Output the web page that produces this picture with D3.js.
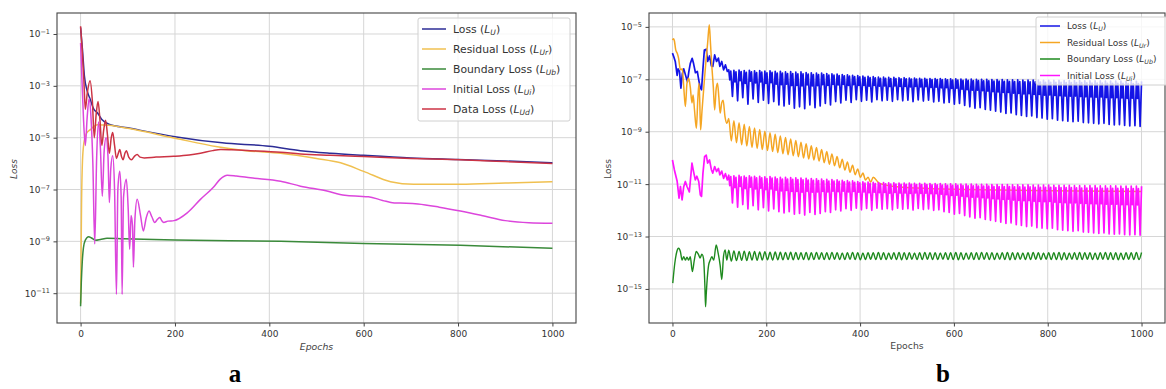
<!DOCTYPE html>
<html>
<head>
<meta charset="utf-8">
<script src="https://cdn.jsdelivr.net/npm/d3@7"></script>
<style>
  body { margin: 0; background: #fff; }
  svg { display: block; }
  text { font-family: "DejaVu Sans", sans-serif; }
</style>
</head>
<body>
<svg id="chart" width="1166" height="389"></svg>
<script>
// All loss values below are stored as log10(loss); epochs on x.

// ---------- panel a ----------
var aLoss = [[0,-0.75],[4,-1.6],[8,-2.6],[14,-3.2],[20,-3.5],[28,-3.9],[36,-4.05],[45,-4.3],[60,-4.48],[100,-4.62],
  [200,-4.96],[300,-5.2],[400,-5.33],[466,-5.5],[530,-5.6],[600,-5.68],[700,-5.78],[800,-5.84],[900,-5.9],[1000,-5.97]];
var aResidual = [[0,-11.4],[1,-9.6],[2,-7.6],[4,-5.9],[7,-5.2],[12,-4.85],[20,-4.7],[36,-4.5],[60,-4.52],[100,-4.64],
  [200,-5.02],[290,-5.35],[350,-5.5],[424,-5.6],[500,-5.8],[551,-5.97],[600,-6.3],[657,-6.7],[706,-6.8],[805,-6.8],[900,-6.75],[1000,-6.7]];
var aBoundary = [[0,-11.5],[1.5,-10.6],[3.5,-9.8],[6,-9.25],[10,-8.95],[17,-8.82],[24,-8.88],[32,-8.96],[42,-8.93],[56,-8.88],
  [90,-8.9],[200,-8.95],[424,-9.0],[600,-9.08],[805,-9.15],[1000,-9.27]];
var aInitial = [[0,-1.35],[3,-2.8],[6,-4.2],[10,-5.3],[14,-4.2],[18,-3.5],[22,-4.2],[26,-6.0],[30,-9.1],[34,-5.8],[38,-4.4],
  [42,-5.4],[46,-7.26],[50,-5.5],[54,-5.0],[58,-5.7],[61,-7.5],[64,-6.2],[68,-5.7],[72,-7.0],[76,-11.05],[79,-7.0],[83,-6.3],
  [86,-7.3],[88,-11.05],[91,-7.3],[97,-6.6],[101,-7.8],[104,-9.3],[107,-8.0],[110,-8.4],[112,-10.0],[115,-8.2],[120,-7.38],
  [127,-8.0],[133,-8.6],[139,-8.1],[145,-7.83],[151,-8.05],[157,-8.27],[163,-8.15],[168,-8.08],[172,-8.2],[176,-8.27],[185,-8.22],
  [198,-8.2],[226,-7.9],[254,-7.38],[282,-6.9],[296,-6.6],[311,-6.45],[330,-6.48],[360,-6.55],[424,-6.68],[466,-6.87],[520,-7.05],
  [560,-7.22],[590,-7.26],[610,-7.28],[640,-7.42],[665,-7.52],[690,-7.53],[715,-7.56],[760,-7.68],[805,-7.83],[850,-8.0],
  [900,-8.2],[950,-8.28],[1000,-8.3]];
var aData = [[0,-0.7],[3,-1.5],[7,-2.8],[10,-3.9],[14,-3.3],[20,-2.8],[25,-3.6],[29,-5.0],[33,-4.1],[37,-3.6],[41,-4.3],[45,-5.3],
  [49,-4.7],[53,-4.33],[57,-4.9],[61,-5.6],[65,-5.0],[68,-4.8],[72,-5.3],[76,-5.8],[80,-5.6],[83,-5.46],[87,-5.75],[90,-5.85],
  [94,-5.6],[97,-5.5],[102,-5.75],[108,-5.85],[114,-5.72],[120,-5.65],[126,-5.75],[135,-5.78],[160,-5.75],[197,-5.72],[230,-5.67],
  [254,-5.6],[280,-5.5],[297,-5.46],[320,-5.47],[360,-5.5],[424,-5.56],[466,-5.63],[530,-5.68],[600,-5.73],[700,-5.8],[805,-5.85],
  [900,-5.92],[1000,-6.0]];

// ---------- panel b ----------
// irregular first ~120 epochs
var bLossStart = [[0,-6.0],[3,-6.15],[6,-6.32],[10,-6.85],[12,-6.6],[15,-6.7],[18,-7.34],[21,-6.8],[24,-6.6],[28,-6.85],[32,-7.09],
  [35,-6.7],[38,-6.4],[42,-6.2],[45,-6.4],[49,-6.75],[53,-6.7],[56,-7.02],[59,-7.3],[62,-7.4],[65,-6.6],[68,-5.88],[72,-5.85],
  [75,-6.32],[79,-6.11],[83,-6.49],[86,-6.51],[90,-6.07],[94,-6.32],[98,-6.19],[101,-6.51],[105,-6.32],[109,-6.64],[113,-6.45],[117,-6.7]];
var bResidualStart = [[0,-5.5],[2,-5.45],[4,-5.52],[7,-5.88],[10,-6.0],[13,-6.19],[17,-6.64],[21,-6.6],[24,-7.27],[27.5,-8.04],
  [31,-7.15],[34.6,-6.96],[38,-7.3],[41.6,-7.9],[44,-7.6],[47,-8.17],[51,-8.87],[54,-7.78],[56.5,-7.15],[58,-7.7],[60,-8.93],
  [63,-8.2],[67,-7.27],[71.6,-6.26],[75,-5.62],[78.5,-4.92],[81,-5.62],[84,-6.51],[87,-7.27],[90,-8.17],[93,-7.4],[96,-7.15],
  [98.8,-7.66],[101.7,-8.29],[105,-7.9],[108,-7.8],[112,-8.42],[116,-8.68]];
var bBoundaryStart = [[0.7,-14.78],[5,-14.02],[9,-13.6],[13,-13.45],[17,-13.58],[20.5,-13.9],[24,-13.77],[27.5,-13.9],[31,-13.79],
  [34.6,-13.9],[38,-13.77],[42.4,-14.34],[46.6,-13.9],[50.8,-13.57],[55.8,-13.7],[59,-13.82],[62.8,-13.67],[66.3,-13.85],
  [69.2,-14.91],[70.6,-15.68],[72,-15.2],[73.4,-14.8],[77,-14.1],[80.5,-13.9],[84,-13.77],[88,-13.9],[93.2,-13.32],[97.5,-13.64],
  [101.7,-14.1],[105.2,-14.64],[108.8,-13.77],[112.3,-13.51],[115.8,-13.9]];
var bInitialStart = [[0,-10.08],[4,-10.45],[10,-10.89],[14,-11.54],[17,-11.09],[20.5,-11.6],[24,-11.1],[27.5,-10.9],[31,-11.09],
  [36,-11.3],[41.6,-10.2],[45,-10.52],[48.7,-10.84],[52,-10.7],[56,-10.9],[59.4,-11.41],[62,-11.47],[65,-10.58],[68.5,-9.95],
  [72,-9.89],[75,-10.2],[79,-10.08],[83,-10.45],[86,-10.58],[90,-10.33],[94,-10.52],[98,-10.4],[101,-10.65],[105,-10.5],
  [109,-10.78],[113,-10.6],[117,-10.84]];

// regular oscillation, one cycle every 11 epochs from epoch 120
var oscStart = 120, oscPeriod = 11;
var bLossTops = [-6.64,-6.66,-6.65,-6.67,-6.66,-6.68,-6.67,-6.69,-6.68,-6.70,
  -6.70,-6.72,-6.71,-6.73,-6.72,-6.74,-6.75,-6.76,-6.76,-6.78,
  -6.79,-6.80,-6.82,-6.83,-6.85,-6.86,-6.88,-6.89,-6.90,-6.92,
  -6.92,-6.93,-6.93,-6.94,-6.94,-6.95,-6.95,-6.96,-6.96,-6.97,
  -6.97,-6.97,-6.98,-6.98,-6.98,-6.99,-6.99,-6.99,-7.00,-7.00,
  -7.00,-7.01,-7.01,-7.01,-7.02,-7.02,-7.02,-7.03,-7.03,-7.03,
  -7.03,-7.04,-7.04,-7.04,-7.04,-7.05,-7.05,-7.05,-7.05,-7.06,
  -7.06,-7.06,-7.06,-7.07,-7.07,-7.07,-7.07,-7.08,-7.08,-7.08];
var bLossLows = [-7.65,-7.82,-7.70,-7.95,-7.75,-7.88,-7.80,-7.92,-7.85,-7.98,
  -8.02,-7.95,-8.10,-8.05,-8.12,-7.98,-8.08,-8.02,-7.92,-7.98,
  -7.85,-7.90,-7.80,-7.88,-7.78,-7.84,-7.80,-7.86,-7.78,-7.82,
  -7.80,-7.84,-7.78,-7.82,-7.80,-7.85,-7.79,-7.83,-7.80,-7.86,
  -7.84,-7.90,-7.88,-7.95,-7.92,-8.00,-8.05,-8.10,-8.08,-8.15,
  -8.18,-8.22,-8.25,-8.30,-8.28,-8.35,-8.38,-8.42,-8.40,-8.46,
  -8.48,-8.52,-8.50,-8.56,-8.58,-8.60,-8.62,-8.60,-8.65,-8.66,
  -8.68,-8.70,-8.68,-8.72,-8.74,-8.73,-8.76,-8.78,-8.77,-8.80];
var bInitialTops = [-10.66,-10.68,-10.67,-10.69,-10.68,-10.70,-10.70,-10.72,-10.71,-10.73,
  -10.74,-10.74,-10.75,-10.76,-10.77,-10.78,-10.79,-10.80,-10.81,-10.82,
  -10.83,-10.84,-10.86,-10.87,-10.88,-10.90,-10.91,-10.92,-10.93,-10.94,
  -10.94,-10.95,-10.95,-10.96,-10.96,-10.96,-10.97,-10.97,-10.97,-10.98,
  -10.98,-10.98,-10.99,-10.99,-10.99,-11.00,-11.00,-11.00,-11.01,-11.01,
  -11.01,-11.02,-11.02,-11.02,-11.02,-11.03,-11.03,-11.03,-11.03,-11.04,
  -11.04,-11.04,-11.04,-11.05,-11.05,-11.05,-11.05,-11.06,-11.06,-11.06,
  -11.06,-11.06,-11.07,-11.07,-11.07,-11.07,-11.08,-11.08,-11.08,-11.08];
var bInitialLows = [-11.72,-11.88,-11.78,-11.95,-11.82,-11.98,-11.90,-12.02,-11.95,-12.05,
  -12.10,-12.05,-12.15,-12.12,-12.18,-12.08,-12.16,-12.12,-12.05,-12.08,
  -11.98,-12.02,-11.94,-12.00,-11.92,-11.98,-11.93,-12.00,-11.92,-11.96,
  -11.94,-11.98,-11.92,-11.96,-11.94,-11.99,-11.93,-11.97,-11.95,-12.00,
  -11.98,-12.05,-12.08,-12.15,-12.12,-12.20,-12.25,-12.30,-12.28,-12.35,
  -12.38,-12.42,-12.45,-12.50,-12.48,-12.55,-12.58,-12.62,-12.60,-12.66,
  -12.68,-12.70,-12.68,-12.74,-12.76,-12.78,-12.80,-12.78,-12.83,-12.84,
  -12.86,-12.88,-12.86,-12.90,-12.91,-12.90,-12.93,-12.94,-12.93,-12.95];
var bBoundaryTops = [-13.52,-13.55,-13.57,-13.56,-13.58,-13.57,-13.59,-13.58,-13.60,-13.59,
  -13.60,-13.61,-13.60,-13.61,-13.62,-13.61,-13.62,-13.61,-13.62,-13.62,
  -13.61,-13.62,-13.63,-13.62,-13.61,-13.62,-13.63,-13.62,-13.62,-13.61,
  -13.62,-13.63,-13.62,-13.61,-13.62,-13.62,-13.63,-13.62,-13.61,-13.62,
  -13.62,-13.63,-13.62,-13.62,-13.61,-13.62,-13.63,-13.62,-13.62,-13.61,
  -13.62,-13.62,-13.63,-13.62,-13.61,-13.62,-13.62,-13.63,-13.62,-13.61,
  -13.62,-13.63,-13.62,-13.62,-13.61,-13.62,-13.63,-13.62,-13.61,-13.62,
  -13.62,-13.63,-13.62,-13.61,-13.62,-13.62,-13.63,-13.62,-13.62,-13.61];
var bBoundaryLows = [-13.94,-13.92,-13.91,-13.92,-13.90,-13.91,-13.90,-13.89,-13.90,-13.89,
  -13.89,-13.88,-13.89,-13.88,-13.88,-13.89,-13.88,-13.87,-13.88,-13.88,
  -13.87,-13.88,-13.88,-13.87,-13.88,-13.89,-13.88,-13.87,-13.88,-13.88,
  -13.88,-13.87,-13.88,-13.89,-13.88,-13.87,-13.88,-13.88,-13.87,-13.88,
  -13.88,-13.87,-13.88,-13.88,-13.89,-13.88,-13.87,-13.88,-13.88,-13.87,
  -13.88,-13.88,-13.87,-13.88,-13.89,-13.88,-13.87,-13.88,-13.88,-13.87,
  -13.88,-13.87,-13.88,-13.88,-13.89,-13.88,-13.87,-13.88,-13.88,-13.87,
  -13.88,-13.88,-13.87,-13.88,-13.88,-13.89,-13.88,-13.87,-13.88,-13.88];
// residual damps out by ~epoch 430, then sits inside the initial-loss band
var bResidualTops = [-8.50,-8.58,-8.66,-8.72,-8.80,-8.86,-8.92,-8.98,-9.04,-9.10,-9.16,-9.22,-9.28,-9.34,
  -9.40,-9.46,-9.54,-9.60,-9.68,-9.76,-9.85,-9.95,-10.05,-10.16,-10.28,-10.42,-10.58,-10.74];
var bResidualLows = [-9.35,-9.42,-9.50,-9.55,-9.60,-9.64,-9.68,-9.72,-9.76,-9.80,-9.84,-9.88,-9.92,-9.96,
  -10.00,-10.04,-10.08,-10.12,-10.18,-10.24,-10.30,-10.38,-10.46,-10.55,-10.64,-10.74,-10.84,-10.92];
var bResidualEnd = [[440,-10.95],[470,-11.08],[520,-11.15],[600,-11.2],[700,-11.22],[800,-11.25],[1000,-11.28]];

// ticks / labels
var xTicks = [0, 200, 400, 600, 800, 1000];
var aYTicks = [-1, -3, -5, -7, -9, -11];
var bYTicks = [-5, -7, -9, -11, -13, -15];
var aNames = ["Loss", "Residual Loss", "Boundary Loss", "Initial Loss", "Data Loss"];
var aSubs = ["U", "Ur", "Ub", "Ui", "Ud"];
var bNames = ["Loss", "Residual Loss", "Boundary Loss", "Initial Loss"];
var bSubs = ["U", "Ur", "Ub", "Ui"];

// shape of one cycle: [fraction of period, fraction of the way from top to low]
var spikeShape = [[0, 0], [0.2, 0.38], [0.4, 0.05], [0.72, 1]];
var waveShape = [[0, 0], [0.5, 1]];

function cycles(start, period, tops, lows, shape) {
  var pts = [];
  tops.forEach(function(t, k) {
    var t0 = start + k * period;
    shape.forEach(function(s) {
      pts.push([t0 + s[0] * period, t + (lows[k] - t) * s[1]]);
    });
  });
  pts.push([start + tops.length * period, tops[tops.length - 1]]);
  return pts;
}

var svg = d3.select("#chart");
svg.append("rect").attr("width", 1166).attr("height", 389).attr("fill", "#fff");

function drawPanel(p) {
  var x = d3.scaleLinear().domain([-50, 1050]).range([p.left, p.right]);
  var y = d3.scaleLog().domain(p.yDomain.map(function(v) { return Math.pow(10, v); })).range([p.bottom, p.top]);
  var g = svg.append("g");

  // grid
  g.selectAll(".gx").data(xTicks).enter().append("line")
    .attr("x1", function(d) { return x(d); }).attr("x2", function(d) { return x(d); })
    .attr("y1", p.top).attr("y2", p.bottom)
    .attr("stroke", "#d6d6d6").attr("stroke-width", 1);
  g.selectAll(".gy").data(p.yTicks).enter().append("line")
    .attr("x1", p.left).attr("x2", p.right)
    .attr("y1", function(d) { return y(Math.pow(10, d)); }).attr("y2", function(d) { return y(Math.pow(10, d)); })
    .attr("stroke", "#d6d6d6").attr("stroke-width", 1);

  // lines
  svg.append("clipPath").attr("id", "clip" + p.id).append("rect")
    .attr("x", p.left).attr("y", p.top).attr("width", p.right - p.left).attr("height", p.bottom - p.top);
  var lines = g.append("g").attr("clip-path", "url(#clip" + p.id + ")");
  p.series.forEach(function(s) {
    var line = d3.line()
      .x(function(d) { return x(d[0]); })
      .y(function(d) { return y(Math.pow(10, d[1])); })
      .curve(s.curve || d3.curveMonotoneX);
    lines.append("path").datum(s.data)
      .attr("d", line)
      .attr("fill", "none")
      .attr("stroke", s.color)
      .attr("stroke-width", s.width || 1.5)
      .attr("stroke-linejoin", "round");
  });

  // frame
  g.append("rect").attr("x", p.left).attr("y", p.top)
    .attr("width", p.right - p.left).attr("height", p.bottom - p.top)
    .attr("fill", "none").attr("stroke", "#444").attr("stroke-width", 1.1);

  // axes
  var gx = g.append("g").attr("transform", "translate(0," + p.bottom + ")")
    .call(d3.axisBottom(x).tickValues(xTicks).tickSize(3.5).tickPadding(4).tickFormat(d3.format("d")));
  var gy = g.append("g").attr("transform", "translate(" + p.left + ",0)")
    .call(d3.axisLeft(y).tickValues(p.yTicks.map(function(v) { return Math.pow(10, v); })).tickSize(3.5).tickPadding(3.5).tickFormat(""));
  [gx, gy].forEach(function(a) {
    a.select(".domain").remove();
    a.selectAll(".tick line").attr("stroke", "#444");
    a.selectAll(".tick text").attr("fill", "#333").attr("font-size", "9px");
  });
  gy.selectAll(".tick text").each(function(d) {
    var t = d3.select(this);
    var pw = Math.round(Math.log10(d));
    t.append("tspan").text("10");
    t.append("tspan").attr("dy", "-0.5em").attr("font-size", "6.5px").text("\u2212" + (-pw));
  });

  // axis titles
  svg.append("text").attr("x", (p.left + p.right) / 2).attr("y", p.xTitleY)
    .attr("text-anchor", "middle").attr("font-size", "9.3px").attr("fill", "#444")
    .attr("font-style", p.italic ? "italic" : "normal").text("Epochs");
  svg.append("text").attr("transform", "translate(" + p.yTitleX + ",169) rotate(-90)")
    .attr("text-anchor", "middle").attr("font-size", "9px").attr("fill", "#444")
    .attr("font-style", p.italic ? "italic" : "normal").text("Loss");

  // legend
  var L = p.legend;
  g.append("rect").attr("x", L.x).attr("y", L.y).attr("width", L.w).attr("height", L.h)
    .attr("rx", 2).attr("fill", "#fff").attr("fill-opacity", 0.8)
    .attr("stroke", "#d0d0d0").attr("stroke-width", 1);
  L.names.forEach(function(n, i) {
    var cy = L.y + L.first + i * L.step;
    g.append("line").attr("x1", L.x + 4).attr("x2", L.x + 4 + L.len)
      .attr("y1", cy).attr("y2", cy).attr("stroke", p.series[i].color).attr("stroke-width", 1.5);
    var t = g.append("text").attr("x", L.x + L.len + 11).attr("y", cy).attr("dy", "0.35em")
      .attr("font-size", L.font + "px").attr("fill", "#333");
    t.append("tspan").text(n + " (");
    t.append("tspan").attr("font-style", "italic").text("L");
    t.append("tspan").attr("font-style", "italic").attr("font-size", (L.font * 0.7) + "px").attr("dy", "0.3em").text(L.subs[i]);
    t.append("tspan").attr("dy", "-0.2em").text(")");
  });
}

drawPanel({
  id: "a", left: 57, right: 576, top: 13, bottom: 323,
  yDomain: [-12.15, -0.19], yTicks: aYTicks, italic: true, xTitleY: 350, yTitleX: 17,
  series: [
    { data: aLoss, color: "#2c2c96" },
    { data: aResidual, color: "#f0c050" },
    { data: aBoundary, color: "#3a8a3a" },
    { data: aInitial, color: "#dc46dc" },
    { data: aData, color: "#cc3344" }
  ],
  legend: { x: 418, y: 18, w: 152, h: 103, first: 11, step: 20, len: 24, font: 10.8, names: aNames, subs: aSubs }
});

drawPanel({
  id: "b", left: 649, right: 1165, top: 13, bottom: 323,
  yDomain: [-16.3, -4.47], yTicks: bYTicks, italic: false, xTitleY: 349, yTitleX: 611,
  series: [
    { data: bLossStart.concat(cycles(oscStart, oscPeriod, bLossTops, bLossLows, spikeShape)), color: "#1414e6", curve: d3.curveLinear, width: 1.7 },
    { data: bResidualStart.concat(cycles(oscStart, oscPeriod, bResidualTops, bResidualLows, waveShape)).concat(bResidualEnd), color: "#f5a623" },
    { data: bBoundaryStart.concat(cycles(oscStart, oscPeriod, bBoundaryTops, bBoundaryLows, waveShape)), color: "#1e8a1e", width: 1.4 },
    { data: bInitialStart.concat(cycles(oscStart, oscPeriod, bInitialTops, bInitialLows, spikeShape)), color: "#ff14ff", curve: d3.curveLinear, width: 1.7 }
  ],
  legend: { x: 1036, y: 17, w: 134, h: 68, first: 9, step: 16.5, len: 20, font: 9, names: bNames, subs: bSubs }
});

// panel letters
[["a", 235], ["b", 943]].forEach(function(l) {
  svg.append("text").attr("x", l[1]).attr("y", 382).attr("text-anchor", "middle")
    .style("font-family", "'Liberation Serif', 'Times New Roman', serif")
    .style("font-weight", "bold").style("font-size", "25px").text(l[0]);
});
</script>
</body>
</html>
